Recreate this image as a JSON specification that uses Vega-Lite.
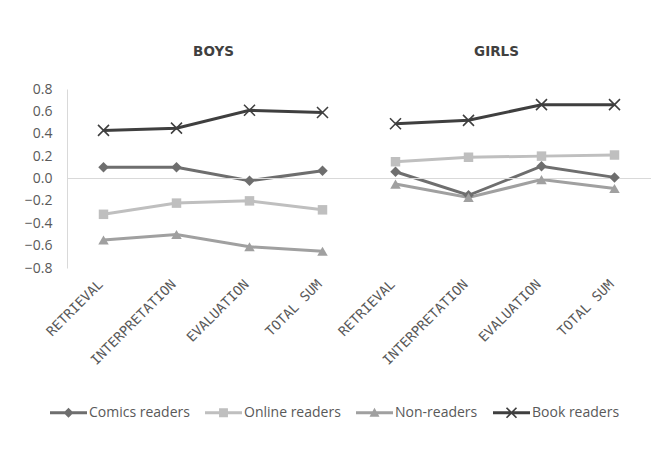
{
  "$schema": "https://vega.github.io/schema/vega-lite/v6.json",
  "width": 584,
  "height": 179,
  "autosize": {"type": "none"},
  "padding": {"left": 67, "top": 89, "right": 11, "bottom": 183},
  "background": "white",
  "config": {"view": {"stroke": null}, "axisY": {"labelOverlap": false}},
  "data": {"values": [
    {"group": "Boys", "key": "Boys|RETRIEVAL", "series": "Comics readers", "value": 0.10},
    {"group": "Boys", "key": "Boys|INTERPRETATION", "series": "Comics readers", "value": 0.10},
    {"group": "Boys", "key": "Boys|EVALUATION", "series": "Comics readers", "value": -0.02},
    {"group": "Boys", "key": "Boys|TOTAL SUM", "series": "Comics readers", "value": 0.07},
    {"group": "Boys", "key": "Boys|RETRIEVAL", "series": "Online readers", "value": -0.32},
    {"group": "Boys", "key": "Boys|INTERPRETATION", "series": "Online readers", "value": -0.22},
    {"group": "Boys", "key": "Boys|EVALUATION", "series": "Online readers", "value": -0.20},
    {"group": "Boys", "key": "Boys|TOTAL SUM", "series": "Online readers", "value": -0.28},
    {"group": "Boys", "key": "Boys|RETRIEVAL", "series": "Non-readers", "value": -0.55},
    {"group": "Boys", "key": "Boys|INTERPRETATION", "series": "Non-readers", "value": -0.50},
    {"group": "Boys", "key": "Boys|EVALUATION", "series": "Non-readers", "value": -0.61},
    {"group": "Boys", "key": "Boys|TOTAL SUM", "series": "Non-readers", "value": -0.65},
    {"group": "Boys", "key": "Boys|RETRIEVAL", "series": "Book readers", "value": 0.43},
    {"group": "Boys", "key": "Boys|INTERPRETATION", "series": "Book readers", "value": 0.45},
    {"group": "Boys", "key": "Boys|EVALUATION", "series": "Book readers", "value": 0.61},
    {"group": "Boys", "key": "Boys|TOTAL SUM", "series": "Book readers", "value": 0.59},
    {"group": "Girls", "key": "Girls|RETRIEVAL", "series": "Comics readers", "value": 0.06},
    {"group": "Girls", "key": "Girls|INTERPRETATION", "series": "Comics readers", "value": -0.15},
    {"group": "Girls", "key": "Girls|EVALUATION", "series": "Comics readers", "value": 0.11},
    {"group": "Girls", "key": "Girls|TOTAL SUM", "series": "Comics readers", "value": 0.01},
    {"group": "Girls", "key": "Girls|RETRIEVAL", "series": "Online readers", "value": 0.15},
    {"group": "Girls", "key": "Girls|INTERPRETATION", "series": "Online readers", "value": 0.19},
    {"group": "Girls", "key": "Girls|EVALUATION", "series": "Online readers", "value": 0.20},
    {"group": "Girls", "key": "Girls|TOTAL SUM", "series": "Online readers", "value": 0.21},
    {"group": "Girls", "key": "Girls|RETRIEVAL", "series": "Non-readers", "value": -0.05},
    {"group": "Girls", "key": "Girls|INTERPRETATION", "series": "Non-readers", "value": -0.17},
    {"group": "Girls", "key": "Girls|EVALUATION", "series": "Non-readers", "value": -0.01},
    {"group": "Girls", "key": "Girls|TOTAL SUM", "series": "Non-readers", "value": -0.09},
    {"group": "Girls", "key": "Girls|RETRIEVAL", "series": "Book readers", "value": 0.49},
    {"group": "Girls", "key": "Girls|INTERPRETATION", "series": "Book readers", "value": 0.52},
    {"group": "Girls", "key": "Girls|EVALUATION", "series": "Book readers", "value": 0.66},
    {"group": "Girls", "key": "Girls|TOTAL SUM", "series": "Book readers", "value": 0.66}
  ]},
  "layer": [
    {
      "mark": {"type": "line", "strokeWidth": 3},
      "encoding": {
        "x": {
          "field": "key",
          "type": "ordinal",
          "scale": {"type": "point", "padding": 0.5, "domain": ["Boys|RETRIEVAL", "Boys|INTERPRETATION", "Boys|EVALUATION", "Boys|TOTAL SUM", "Girls|RETRIEVAL", "Girls|INTERPRETATION", "Girls|EVALUATION", "Girls|TOTAL SUM"]},
          "axis": {
            "title": null,
            "domain": false,
            "ticks": false,
            "grid": false,
            "labelAngle": -45,
            "labelAlign": "right",
            "labelBaseline": "middle",
            "labelPadding": 14,
            "labelOffset": -3,
            "labelFont": "DejaVu Sans Mono",
            "labelFontSize": 13.5,
            "labelColor": "#595959",
            "labelExpr": "split(datum.label, '|')[1]"
          }
        },
        "y": {
          "field": "value",
          "type": "quantitative",
          "scale": {"domain": [-0.8, 0.8], "nice": false, "zero": false},
          "axis": {
            "title": null,
            "values": [-0.8, -0.6, -0.4, -0.2, 0, 0.2, 0.4, 0.6, 0.8],
            "tickCount": 9,
            "format": ".1f",
            "labelOverlap": false,
            "labelSeparation": 0,
            "domainColor": "#d9d9d9",
            "domainWidth": 1,
            "ticks": false,
            "grid": false,
            "labelPadding": 15,
            "labelFont": "Open Sans",
            "labelFontSize": 14,
            "labelColor": "#595959"
          }
        },
        "detail": {"field": "group"},
        "color": {
          "field": "series",
          "type": "nominal",
          "scale": {"domain": ["Comics readers", "Online readers", "Non-readers", "Book readers"], "range": ["#6e6e6e", "#bfbfbf", "#a0a0a0", "#3f3f3f"]},
          "legend": {
            "title": null,
            "orient": "none",
            "legendX": -17,
            "legendY": 305,
            "direction": "horizontal",
            "symbolSize": 1369,
            "labelFont": "Open Sans",
            "labelFontSize": 14,
            "labelColor": "#595959",
            "labelOffset": 2,
            "columnPadding": 15,
            "padding": 0,
            "encode": {
              "symbols": {
                "update": {
                  "shape": {"signal": "datum.value === 'Comics readers' ? 'M-1,-0.081H1V0.081H-1Z M0,-0.27L0.27,0L0,0.27L-0.27,0Z' : datum.value === 'Online readers' ? 'M-1,-0.081H1V0.081H-1Z M-0.24,-0.24H0.24V0.24H-0.24Z' : datum.value === 'Non-readers' ? 'M-1,-0.081H1V0.081H-1Z M0,-0.27L0.27,0.22H-0.27Z' : 'M-1,-0.081H1V0.081H-1Z M-0.238,-0.302L0.302,0.238L0.238,0.302L-0.302,-0.238Z M-0.302,0.238L0.238,-0.302L0.302,-0.238L-0.238,0.302Z'"},
                  "fill": {"signal": "scale('color', datum.value)"},
                  "stroke": {"value": "transparent"},
                  "strokeWidth": {"value": 0},
                  "opacity": {"value": 1}
                }
              }
            }
          }
        }
      }
    },
    {
      "mark": {"type": "rule", "color": "#d9d9d9", "strokeWidth": 1},
      "encoding": {"y": {"datum": 0, "type": "quantitative"}}
    },
    {
      "transform": [{"filter": "datum.series === 'Comics readers'"}],
      "mark": {"type": "point", "shape": "diamond", "filled": true, "size": 110, "opacity": 1, "color": "#6e6e6e"},
      "encoding": {"x": {"field": "key", "type": "ordinal"}, "y": {"field": "value", "type": "quantitative"}}
    },
    {
      "transform": [{"filter": "datum.series === 'Online readers'"}],
      "mark": {"type": "point", "shape": "square", "filled": true, "size": 90, "opacity": 1, "color": "#bfbfbf"},
      "encoding": {"x": {"field": "key", "type": "ordinal"}, "y": {"field": "value", "type": "quantitative"}}
    },
    {
      "transform": [{"filter": "datum.series === 'Non-readers'"}],
      "mark": {"type": "point", "shape": "triangle-up", "filled": true, "size": 110, "opacity": 1, "color": "#a0a0a0"},
      "encoding": {"x": {"field": "key", "type": "ordinal"}, "y": {"field": "value", "type": "quantitative"}}
    },
    {
      "transform": [{"filter": "datum.series === 'Book readers'"}],
      "mark": {"type": "point", "shape": "M-0.99,-1.21L1.21,0.99L0.99,1.21L-1.21,-0.99Z M-1.21,0.99L0.99,-1.21L1.21,-0.99L-0.99,1.21Z", "filled": true, "size": 100, "opacity": 1, "color": "#3f3f3f"},
      "encoding": {"x": {"field": "key", "type": "ordinal"}, "y": {"field": "value", "type": "quantitative"}}
    },
    {
      "data": {"values": [{"label": "BOYS", "key": "Boys|INTERPRETATION"}]},
      "mark": {"type": "text", "dx": 37, "font": "DejaVu Sans", "fontWeight": "bold", "fontSize": 13.5, "color": "#404040", "align": "center", "baseline": "middle"},
      "encoding": {
        "x": {"field": "key", "type": "ordinal"},
        "y": {"datum": 1.13, "type": "quantitative"},
        "text": {"field": "label", "type": "nominal"}
      }
    },
    {
      "data": {"values": [{"label": "GIRLS", "key": "Girls|INTERPRETATION"}]},
      "mark": {"type": "text", "dx": 28, "font": "DejaVu Sans", "fontWeight": "bold", "fontSize": 13.5, "color": "#404040", "align": "center", "baseline": "middle"},
      "encoding": {
        "x": {"field": "key", "type": "ordinal"},
        "y": {"datum": 1.13, "type": "quantitative"},
        "text": {"field": "label", "type": "nominal"}
      }
    }
  ]
}
